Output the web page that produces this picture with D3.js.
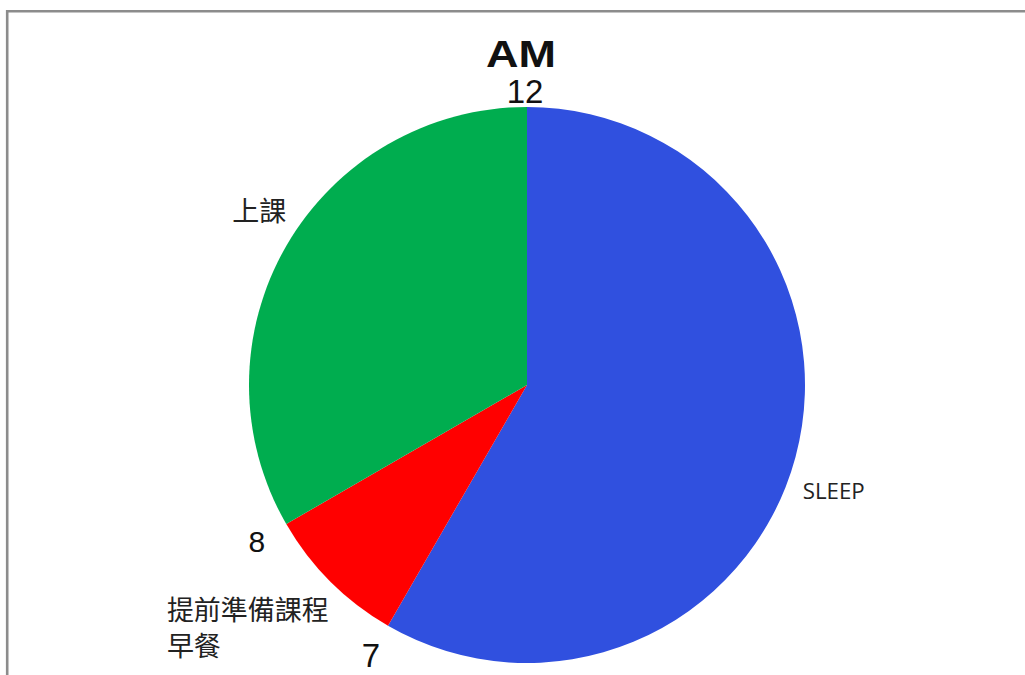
<!DOCTYPE html>
<html>
<head>
<meta charset="utf-8">
<script src="https://cdn.jsdelivr.net/npm/d3@7"></script>
<style>
  html, body { margin: 0; padding: 0; background: #fff; }
  svg { display: block; }
</style>
</head>
<body>
<script>
// Morning schedule on a 12-hour clock face
const activities = ["SLEEP", "提前準備課程\n早餐", "上課"];
const hours = [7, 1, 4];
const colors = ["#3050DF", "#FF0000", "#00AD4F"];
const hourTicks = ["12", "7", "8"];
const tickHours = [0, 7, 8];
const title = "AM";

const W = 1025, H = 675;
const cx = 527, cy = 385, r = 278;

const svg = d3.select("body").append("svg")
  .attr("width", W).attr("height", H);

// frame (top and left edges)
svg.append("path")
  .attr("d", `M7.2,${H} V11.3 H${W}`)
  .attr("fill", "none")
  .attr("stroke", "#8c8c8c")
  .attr("stroke-width", 2.6);

const g = svg.append("g").attr("transform", `translate(${cx},${cy})`);

const pie = d3.pie().value(d => d).sort(null);
const arcs = pie(hours);
const arc = d3.arc().innerRadius(0).outerRadius(r);

g.selectAll("path.slice").data(arcs).join("path")
  .attr("class", "slice")
  .attr("d", arc)
  .attr("fill", (d, i) => colors[i]);

// hour scale: 12 hours around the full circle
const hourAngle = d3.scaleLinear().domain([0, 12]).range([0, 2 * Math.PI]);
const tickSize = [33, 33, 30];
tickHours.forEach((h, i) => {
  const a = hourAngle(h);
  const R = i === 0 ? r + 4 : r + 34;
  const x = Math.sin(a) * R, y = -Math.cos(a) * R;
  g.append("text")
    .attr("x", i === 0 ? x - 2 : x)
    .attr("y", y)
    .attr("dy", i === 0 ? "0" : "0.36em")
    .attr("text-anchor", "middle")
    .attr("font-family", "'Liberation Sans', Arial, sans-serif")
    .attr("font-size", tickSize[i])
    .attr("fill", "#111")
    .text(hourTicks[i]);
});

// title
svg.append("text")
  .attr("x", 521).attr("y", 67)
  .attr("text-anchor", "middle")
  .attr("font-family", "'Liberation Sans', Arial, sans-serif")
  .attr("font-weight", "bold")
  .attr("font-size", 36)
  .attr("textLength", 70)
  .attr("lengthAdjust", "spacingAndGlyphs")
  .attr("fill", "#111")
  .text(title);

// activity labels, placed from each slice's mid angle
const labelR = r + 22;
const labelShift = [[-14, 36, "start"], [-148, 23, "start"], [19, -14, "end"]];
arcs.forEach((d, i) => {
  const a = (d.startAngle + d.endAngle) / 2;
  const x = Math.sin(a) * labelR + labelShift[i][0];
  const y = -Math.cos(a) * labelR + labelShift[i][1];
  const isLatin = /^[A-Z]+$/.test(activities[i]);
  const t = g.append("text")
    .attr("x", x).attr("y", y)
    .attr("text-anchor", labelShift[i][2])
    .attr("font-family", isLatin ? "'Open Sans', 'Liberation Sans', sans-serif" : "'Noto Sans CJK TC', sans-serif")
    .attr("font-size", isLatin ? 22 : 27)
    .attr("fill", "#222");
  activities[i].split("\n").forEach((line, j) => {
    t.append("tspan").attr("x", x).attr("dy", j === 0 ? 0 : 36).text(line);
  });
  if (isLatin) t.attr("textLength", 62).attr("lengthAdjust", "spacingAndGlyphs");
});
</script>
</body>
</html>
